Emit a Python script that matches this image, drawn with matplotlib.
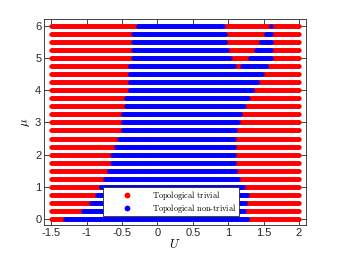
import numpy as np
import matplotlib
matplotlib.use('Agg')
import matplotlib.pyplot as plt

plt.rcParams['mathtext.fontset'] = 'cm'
plt.rcParams['axes.unicode_minus'] = False
plt.rcParams['font.family'] = ['Liberation Sans', 'DejaVu Sans']

# chemical potential rows
mu = [0, 0.25, 0.5, 0.75, 1.0, 1.25, 1.5, 1.75, 2.0, 2.25, 2.5, 2.75, 3.0,
      3.25, 3.5, 3.75, 4.0, 4.25, 4.5, 4.75, 5.0, 5.25, 5.5, 5.75, 6.0]
# first U that is non-trivial (left edge of blue region)
u_left = [-1.30, -1.05, -0.94, -0.85, -0.80, -0.74, -0.69, -0.64, -0.64, -0.59,
          -0.54, -0.49, -0.49, -0.49, -0.44, -0.44, -0.39, -0.39, -0.39, -0.39,
          -0.34, -0.34, -0.34, -0.34, -0.28]
# last U of the main non-trivial region
u_right = [1.27, 1.22, 1.24, 1.27, 1.21, 1.14, 1.10, 1.08, 1.08, 1.08,
           1.08, 1.10, 1.14, 1.17, 1.22, 1.28, 1.34, 1.41, 1.48, 1.08,
           1.02, 0.98, 0.96, 0.95, 0.92]
# second non-trivial island (nan = none)
nan = np.nan
isl_lo = [nan]*19 + [1.20, 1.31, 1.39, 1.46, 1.53, 1.60]
isl_hi = [nan]*19 + [1.54, 1.60, 1.60, 1.60, 1.60, 1.60]

U = np.round(np.arange(-1.5, 2.0001, 0.01), 2)

fig = plt.figure(figsize=(3.39, 2.54), dpi=100)
ax = fig.add_axes([0.13, 0.114, 0.773, 0.811])

for i in range(len(mu)):
    topo = (U >= u_left[i]) & (U <= u_right[i])
    if not np.isnan(isl_lo[i]):
        topo |= (U >= isl_lo[i] - 1e-9) & (U <= isl_hi[i] + 1e-9)
    y = np.full(U.shape, mu[i])
    ax.plot(U[~topo], y[~topo], 'o', color='#ff0000', ms=3.2, mew=0,
            label='$\\mathrm{Topological\\ trivial}$' if i == 0 else None)
    ax.plot(U[topo], y[topo], 'o', color='#0000ff', ms=3.2, mew=0,
            label='$\\mathrm{Topological\\ non\\text{-}trivial}$' if i == 0 else None)

ax.set_xlim(-1.6, 2.1)
ax.set_ylim(-0.18, 6.2)
ax.set_xticks([-1.5, -1, -0.5, 0, 0.5, 1, 1.5, 2])
ax.set_xticklabels(['-1.5', '-1', '-0.5', '0', '0.5', '1', '1.5', '2'])
ax.set_yticks(range(7))
ax.tick_params(direction='in', top=True, right=True, labelsize=8,
               length=3.5, width=0.6, colors='#262626', pad=2)
for s in ax.spines.values():
    s.set_linewidth(0.6)
    s.set_color('#262626')
ax.set_xlabel('$U$', fontsize=9, labelpad=0)
ax.set_ylabel('$\\mu$', fontsize=9, labelpad=2)

h, l = ax.get_legend_handles_labels()
leg = ax.legend(h, l, loc='lower left', bbox_to_anchor=(0.225, 0.044, 0.52, 0.126),
                mode='expand', fontsize=6, frameon=True, fancybox=False,
                edgecolor='#262626', framealpha=1, borderpad=0.15,
                borderaxespad=0, handletextpad=0.3, labelspacing=0.02,
                markerscale=1.3, handlelength=5.4, handleheight=0.6)
leg.get_frame().set_linewidth(0.6)

fig.savefig('out.png', dpi=100)
